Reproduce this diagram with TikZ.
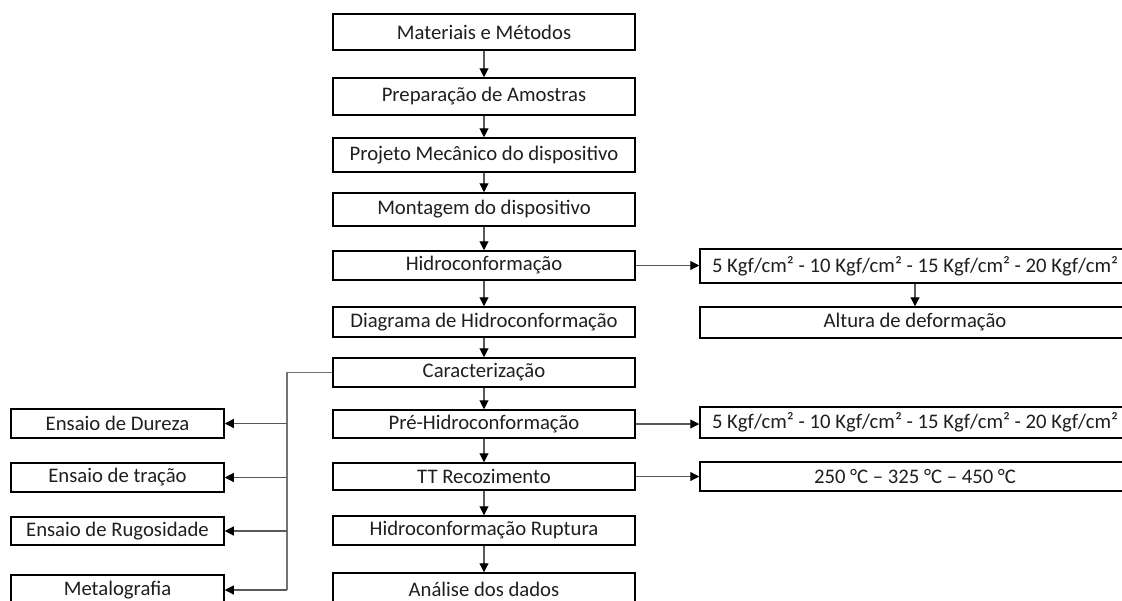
\documentclass[tikz,border=0pt]{standalone}
\usepackage{fontspec}
\setmainfont{Carlito}
\usetikzlibrary{arrows.meta}
\begin{document}
\begin{tikzpicture}[x=1pt,y=-1pt,
  box/.style={draw=black, line width=1.5pt, fill=white, inner sep=0pt, align=center,
    text=black!88, font=\fontsize{20.7}{24}\selectfont},
  mainbox/.style={box, minimum width=302pt},
  rightbox/.style={box, minimum width=430pt},
  leftbox/.style={box, minimum width=213pt},
  arr/.style={draw=black!65, line width=1.1pt, -{Triangle[length=9pt,width=9pt,color=black]}},
  conn/.style={draw=black!55, line width=1.1pt}]
\useasboundingbox (0,0) rectangle (1122,600);
\clip (0,0) rectangle (1122,600);
\fill[white] (0,0) rectangle (1122,600);
% main column
\node[mainbox, minimum height=36pt] (m1) at (484,32) {Materiais e Métodos};
\node[mainbox, minimum height=37pt] (m2) at (484,96.5) {Preparação de Amostras};
\node[mainbox, minimum height=34pt] (m3) at (484,155) {Projeto Mecânico do dispositivo};
\node[mainbox, minimum height=33pt] (m4) at (484,209.5) {Montagem do dispositivo};
\node[mainbox, minimum height=29pt] (m5) at (484,265.5) {Hidroconformação};
\node[mainbox, minimum height=30pt] (m6) at (484,322) {Diagrama de Hidroconformação};
\node[mainbox, minimum height=29pt] (m7) at (484,372.5) {Caracterização};
\node[mainbox, minimum height=28pt] (m8) at (484,424) {Pré-Hidroconformação};
\node[mainbox, minimum height=27pt] (m9) at (484,476.5) {TT Recozimento};
\node[mainbox, minimum height=29pt] (m10) at (484,530.5) {Hidroconformação Ruptura};
\node[mainbox, minimum height=32pt] (m11) at (484,589) {Análise dos dados};
% right column
\node[rightbox, minimum height=34pt] (r1) at (915,266) {5 Kgf/cm² - 10 Kgf/cm² - 15 Kgf/cm² - 20 Kgf/cm²};
\node[rightbox, minimum height=31pt] (r2) at (915,322.5) {Altura de deformação};
\node[rightbox, minimum height=31pt] (r3) at (915,422.5) {5 Kgf/cm² - 10 Kgf/cm² - 15 Kgf/cm² - 20 Kgf/cm²};
\node[rightbox, minimum height=29pt] (r4) at (915,476.5) {250 °C – 325 °C – 450 °C};
% left column
\node[leftbox, minimum height=29pt] (l1) at (117.5,423.5) {Ensaio de Dureza};
\node[leftbox, minimum height=29pt] (l2) at (117.5,477.5) {Ensaio de tração};
\node[leftbox, minimum height=28pt] (l3) at (117.5,531) {Ensaio de Rugosidade};
\node[leftbox, minimum height=30pt] (l4) at (117.5,590) {Metalografia};
% main arrows
\draw[arr] (m1) -- (m2);
\draw[arr] (m2) -- (m3);
\draw[arr] (m3) -- (m4);
\draw[arr] (m4) -- (m5);
\draw[arr] (m5) -- (m6);
\draw[arr] (m6) -- (m7);
\draw[arr] (m7) -- (m8);
\draw[arr] (m8) -- (m9);
\draw[arr] (m9) -- (m10);
\draw[arr] (m10) -- (m11);
% right arrows
\draw[arr] (m5.east) -- (r1.west |- m5.east);
\draw[arr] (r1) -- (r2);
\draw[arr] (m8.east) -- (r3.west |- m8.east);
\draw[arr] (m9.east) -- (r4.west |- m9.east);
% left trunk
\coordinate (tt) at (287,372.5);
\coordinate (tb) at (287,590);
\draw[conn] (m7.west) -- (tt) -- (tb);
\draw[arr] (tt |- l1.east) -- (l1.east);
\draw[arr] (tt |- l2.east) -- (l2.east);
\draw[arr] (tt |- l3.east) -- (l3.east);
\draw[arr] (tb) -- (l4.east);
\end{tikzpicture}
\end{document}
